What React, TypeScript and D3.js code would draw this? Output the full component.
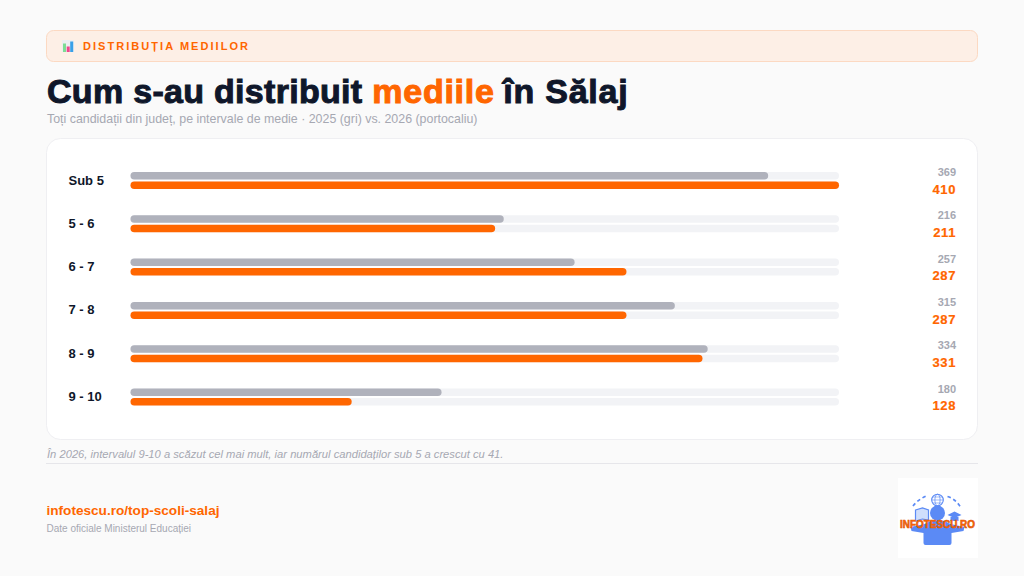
import React from 'react';
import * as d3 from 'd3';

const categories = ['Sub 5', '5 - 6', '6 - 7', '7 - 8', '8 - 9', '9 - 10'];
const values2025 = [369, 216, 257, 315, 334, 180];
const values2026 = [410, 211, 287, 287, 331, 128];

const WIDTH = 1024;
const HEIGHT = 576;
const FONT = '"Liberation Sans", Arial, sans-serif';
const ORANGE = '#ff6600';
const GRAY = '#b0b2bc';
const TRACK = '#f2f3f6';
const MUTED = '#a6a8b2';
const DARK = '#0f172a';

const x = d3.scaleLinear().domain([0, d3.max(values2026) as number]).range([130.5, 839]);
const y = d3.scaleBand<string>().domain(categories).range([158.5, 418.3]).paddingInner(0).paddingOuter(0);

const barHeight = 7.5;
const barGap = 2;

function Bar({ top, value, color }: { top: number; value: number; color: string }) {
	const r = barHeight / 2;
	return (
		<g>
			<rect x={x(0)} y={top} width={x.range()[1] - x(0)} height={barHeight} rx={r} fill={TRACK} />
			<rect x={x(0)} y={top} width={x(value) - x(0)} height={barHeight} rx={r} fill={color} />
		</g>
	);
}

function Logo() {
	const blue = '#5b8af5';
	return (
		<g transform="translate(898,478)">
			<rect width={80} height={80} fill="#ffffff" />
			<g transform="translate(39.5,0)">
				<path d="M-24.5 28 Q-19 21 -10 17.5 M10 18.5 Q18 21 23 29" fill="none" stroke={blue} strokeWidth={1.7} strokeDasharray="3.5 2.8" />
				<circle cx={0} cy={22} r={5.8} fill="#ffffff" stroke={blue} strokeWidth={1.1} />
				<ellipse cx={0} cy={22} rx={2.6} ry={5.8} fill="none" stroke={blue} strokeWidth={0.7} />
				<path d="M-5.8 22H5.8M-5 19H5M-5 25H5" stroke={blue} strokeWidth={0.6} />
				<path d="M-22 32 L-15 30 L-9 32 L-9 42 L-15 41 L-22 43 Z" fill="#cfdefc" stroke={blue} strokeWidth={1.2} />
				<path d="M10 37 L17 33.5 L24 37 L17 40 Z" fill={blue} />
				<path d="M13 39 L13 43 L21 43 L21 39 Z" fill={blue} />
				<circle cx={0} cy={35} r={7.5} fill={blue} />
				<path d="M-7 43 Q0 41 7 43 L13 46 L27 49 L26 53 L14 55 L14 65 Q14 67 12 67 L-12 67 Q-14 67 -14 65 L-14 55 L-26 53 L-27 49 L-13 46 Z" fill={blue} />
			</g>
			<text x={39.5} y={50} textAnchor="middle" fontWeight={700} fontSize={11} textLength={75} lengthAdjust="spacingAndGlyphs" fill={ORANGE} stroke="#d9560b" strokeWidth={0.6}>INFOTESCU.RO</text>
		</g>
	);
}

export default function App() {
	return (
		<svg width={WIDTH} height={HEIGHT} viewBox={`0 0 ${WIDTH} ${HEIGHT}`} fontFamily={FONT} style={{ position: 'fixed', left: 0, top: 0, display: 'block' }}>
			<rect width={WIDTH} height={HEIGHT} fill="#fafafa" />

			<rect x={46.5} y={30.5} width={931} height={31} rx={7} fill="#fdefe6" stroke="#fcd9c2" />
			<g transform="translate(62,40)">
				<rect width={12} height={12} fill="#eceef2" />
				<rect x={1} y={3.5} width={3} height={8.5} fill="#7ddc95" />
				<rect x={4.7} y={6.5} width={3} height={5.5} fill="#f0468c" />
				<rect x={8.2} y={1.5} width={3} height={10.5} fill="#3aa0e8" />
			</g>
			<text x={83} y={50} fontSize={11} fontWeight={700} letterSpacing={2.05} fill={ORANGE}>DISTRIBUȚIA MEDIILOR</text>

			<text x={47} y={102.5} fontSize={34} fontWeight={700} letterSpacing={0.3} fill={DARK} stroke={DARK} strokeWidth={1}>
				Cum s-au distribuit <tspan fill={ORANGE} stroke={ORANGE} letterSpacing={0.75}>mediile</tspan><tspan dx={-1.5} letterSpacing={0.75}> în Sălaj</tspan>
			</text>
			<text x={47} y={123} fontSize={12.4} fill={MUTED}>Toți candidații din județ, pe intervale de medie · 2025 (gri) vs. 2026 (portocaliu)</text>

			<rect x={46.5} y={138.5} width={931} height={301} rx={14} fill="#ffffff" stroke="#efeff2" />

			{categories.map((c, i) => {
				const top = (y(c) as number) + 13.5;
				return (
					<g key={c}>
						<text x={68.5} y={top + 12.5} fontSize={13} fontWeight={700} fill={DARK}>{c}</text>
						<Bar top={top} value={values2025[i]} color={GRAY} />
						<Bar top={top + barHeight + barGap} value={values2026[i]} color={ORANGE} />
						<text x={956} y={top + 4} textAnchor="end" fontSize={11} fontWeight={700} fill={MUTED}>{values2025[i]}</text>
						<text x={956} y={top + 21.7} textAnchor="end" fontSize={13} fontWeight={700} letterSpacing={0.6} fill={ORANGE} stroke={ORANGE} strokeWidth={0.2}>{values2026[i]}</text>
					</g>
				);
			})}

			<text x={47} y={458} fontSize={11.2} fontStyle="italic" fill={MUTED}>În 2026, intervalul 9-10 a scăzut cel mai mult, iar numărul candidaților sub 5 a crescut cu 41.</text>
			<line x1={46} x2={978} y1={463.5} y2={463.5} stroke="#e6e6ea" />

			<text x={46.5} y={515} fontSize={13.6} fontWeight={700} fill={ORANGE}>infotescu.ro/top-scoli-salaj</text>
			<text x={46.5} y={532} fontSize={10} fill={MUTED}>Date oficiale Ministerul Educației</text>

			<Logo />
		</svg>
	);
}
